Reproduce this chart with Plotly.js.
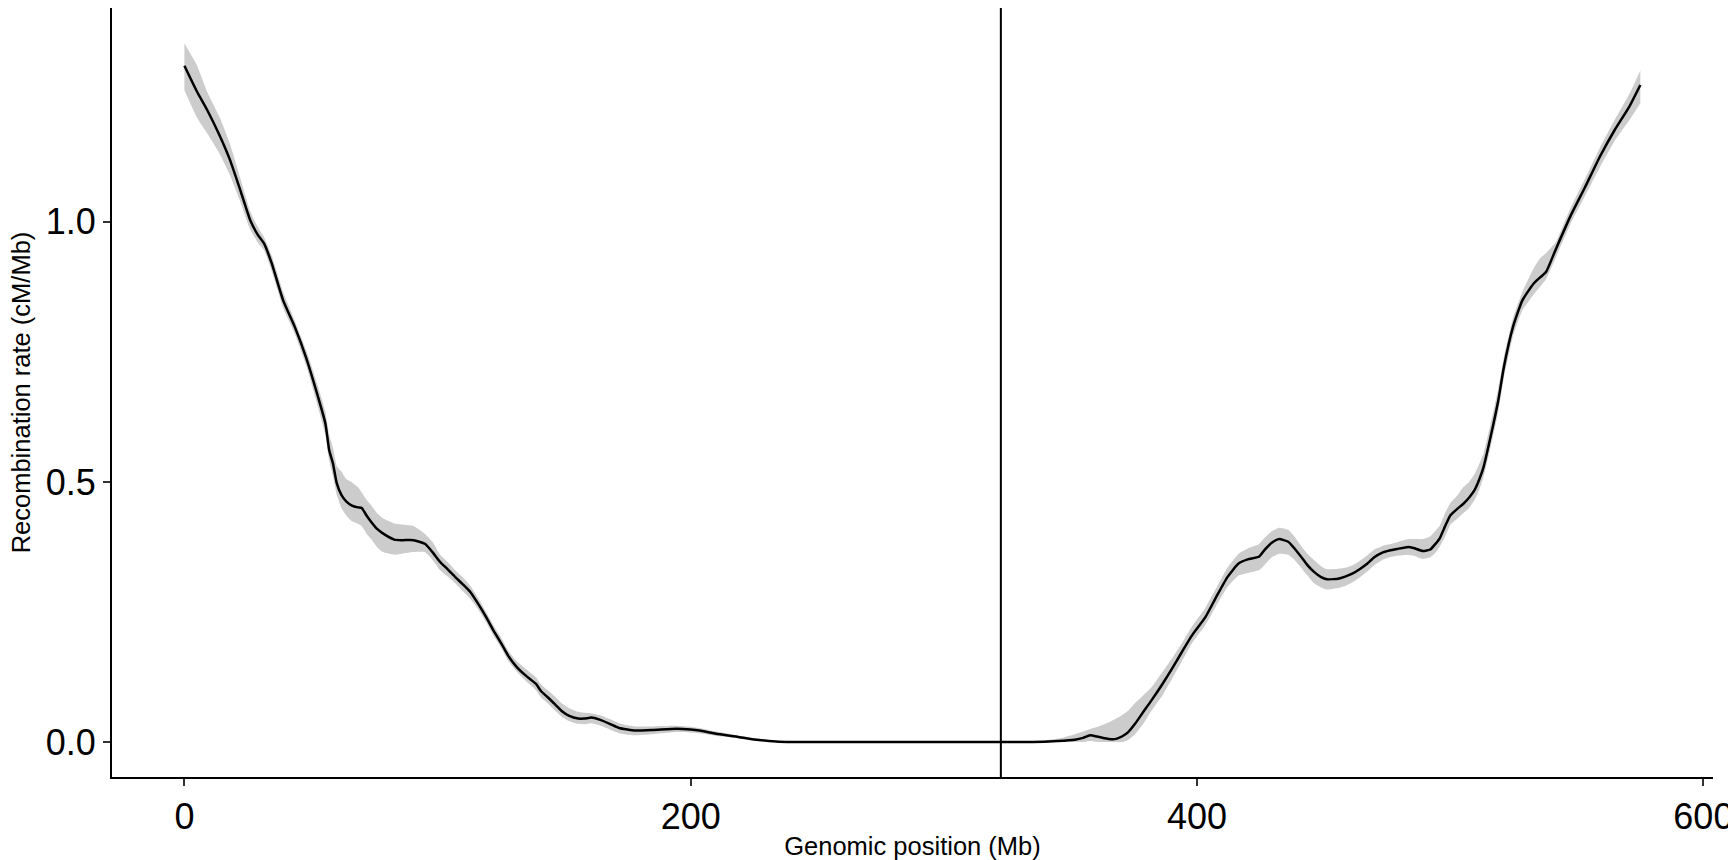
<!DOCTYPE html>
<html>
<head>
<meta charset="utf-8">
<script src="https://cdn.plot.ly/plotly-3.0.1.min.js"></script>
<style>
  html, body { margin: 0; padding: 0; background: #fff; }
  #chart { width: 1728px; height: 860px; }
</style>
</head>
<body>
<div id="chart"></div>
<script>
// Genomic position (Mb)
const position = [0, 5, 9, 14, 18, 22, 26, 29, 31.5, 34.5, 39, 43.6, 48, 52.7, 55.7, 57.2, 58.7, 60.2, 62, 64, 66, 68.5, 70, 72, 73.8, 76, 78.4, 82.9, 86, 90.5, 95, 98, 101, 104, 107, 110, 113, 116, 119.2, 122, 125.2, 128, 131.3, 135, 138.8, 141, 143.4, 146.5, 149.4, 152, 155.5, 158, 160.8, 164, 168, 171.7, 175, 178, 185, 194.4, 200, 203.5, 210, 217, 225, 233.7, 240, 260, 280, 300, 322, 335, 345, 351.7, 355, 357.7, 361, 365.3, 368, 370.5, 372.8, 375.5, 378.8, 382, 386.4, 390, 394, 398, 403.3, 407.6, 412, 416.4, 420, 424.4, 426.6, 429.5, 432.4, 436, 438.5, 441.1, 443.6, 446.2, 449, 451.3, 455.7, 458.5, 461.5, 464.5, 467.3, 470, 473.2, 476, 479, 483.4, 485.5, 489.2, 492.1, 494, 495.8, 498, 500.1, 503, 505.2, 507.5, 509.6, 511.5, 513.2, 516.1, 519.0, 521.2, 524.8, 528.5, 532.9, 535.5, 537.9, 541.6, 547.4, 553.3, 559.1, 564.9, 570.7, 575.1];

// Smoothed recombination rate (cM/Mb)
const rate = [1.300, 1.250, 1.215, 1.165, 1.119, 1.062, 1.003, 0.975, 0.958, 0.920, 0.849, 0.798, 0.740, 0.665, 0.612, 0.561, 0.535, 0.497, 0.475, 0.462, 0.455, 0.451, 0.450, 0.435, 0.423, 0.410, 0.401, 0.389, 0.388, 0.388, 0.381, 0.365, 0.346, 0.332, 0.317, 0.303, 0.288, 0.266, 0.240, 0.215, 0.189, 0.165, 0.144, 0.127, 0.112, 0.097, 0.0865, 0.072, 0.058, 0.050, 0.045, 0.045, 0.047, 0.043, 0.035, 0.027, 0.024, 0.022, 0.023, 0.0255, 0.024, 0.022, 0.016, 0.011, 0.005, 0.001, 0.0, 0.0, 0.0, 0.0, 0.0, 0.0, 0.002, 0.0045, 0.008, 0.0128, 0.010, 0.0058, 0.006, 0.011, 0.019, 0.035, 0.058, 0.080, 0.112, 0.140, 0.173, 0.205, 0.240, 0.279, 0.317, 0.343, 0.351, 0.356, 0.369, 0.383, 0.390, 0.385, 0.372, 0.356, 0.340, 0.327, 0.317, 0.313, 0.314, 0.318, 0.324, 0.333, 0.343, 0.355, 0.364, 0.368, 0.371, 0.375, 0.373, 0.367, 0.370, 0.380, 0.391, 0.415, 0.436, 0.449, 0.458, 0.470, 0.484, 0.505, 0.529, 0.590, 0.657, 0.721, 0.798, 0.849, 0.881, 0.893, 0.904, 0.946, 1.010, 1.067, 1.125, 1.176, 1.221, 1.263];

// Confidence band, lower bound
const rateLow = [1.253, 1.200, 1.170, 1.130, 1.090, 1.040, 0.985, 0.960, 0.945, 0.905, 0.835, 0.785, 0.725, 0.645, 0.590, 0.540, 0.510, 0.475, 0.450, 0.435, 0.425, 0.420, 0.415, 0.400, 0.390, 0.375, 0.365, 0.360, 0.362, 0.365, 0.365, 0.350, 0.330, 0.318, 0.305, 0.290, 0.275, 0.255, 0.230, 0.205, 0.180, 0.155, 0.135, 0.117, 0.100, 0.085, 0.075, 0.060, 0.047, 0.040, 0.035, 0.034, 0.036, 0.032, 0.024, 0.017, 0.014, 0.013, 0.015, 0.019, 0.018, 0.017, 0.012, 0.008, 0.003, 0.0, 0.0, 0.0, 0.0, 0.0, 0.0, 0.0, 0.0, 0.0, 0.0, 0.002, 0.0, 0.0, 0.0, 0.0, 0.004, 0.015, 0.035, 0.060, 0.090, 0.120, 0.155, 0.190, 0.225, 0.262, 0.298, 0.320, 0.325, 0.330, 0.340, 0.355, 0.362, 0.360, 0.350, 0.335, 0.320, 0.305, 0.297, 0.293, 0.296, 0.300, 0.307, 0.317, 0.328, 0.340, 0.350, 0.355, 0.358, 0.360, 0.358, 0.352, 0.355, 0.363, 0.375, 0.395, 0.418, 0.430, 0.440, 0.450, 0.465, 0.485, 0.510, 0.570, 0.635, 0.700, 0.780, 0.830, 0.860, 0.875, 0.890, 0.930, 0.995, 1.050, 1.105, 1.155, 1.195, 1.228];

// Confidence band, upper bound
const rateHigh = [1.343, 1.300, 1.250, 1.200, 1.150, 1.085, 1.020, 0.990, 0.970, 0.935, 0.865, 0.810, 0.755, 0.685, 0.635, 0.590, 0.565, 0.530, 0.520, 0.505, 0.500, 0.490, 0.480, 0.465, 0.455, 0.440, 0.430, 0.420, 0.418, 0.415, 0.400, 0.385, 0.360, 0.346, 0.330, 0.316, 0.300, 0.277, 0.250, 0.225, 0.200, 0.175, 0.155, 0.140, 0.125, 0.110, 0.100, 0.087, 0.073, 0.065, 0.058, 0.056, 0.055, 0.052, 0.044, 0.036, 0.032, 0.030, 0.030, 0.031, 0.029, 0.027, 0.020, 0.014, 0.007, 0.002, 0.001, 0.0005, 0.0, 0.0, 0.0, 0.001, 0.006, 0.015, 0.020, 0.025, 0.030, 0.038, 0.045, 0.052, 0.060, 0.075, 0.090, 0.105, 0.135, 0.160, 0.190, 0.222, 0.258, 0.296, 0.335, 0.362, 0.372, 0.380, 0.392, 0.405, 0.412, 0.408, 0.395, 0.377, 0.362, 0.350, 0.338, 0.332, 0.333, 0.335, 0.340, 0.349, 0.359, 0.370, 0.377, 0.380, 0.384, 0.390, 0.390, 0.390, 0.395, 0.405, 0.415, 0.440, 0.460, 0.475, 0.490, 0.500, 0.515, 0.535, 0.555, 0.615, 0.680, 0.740, 0.815, 0.865, 0.910, 0.930, 0.940, 0.960, 1.025, 1.083, 1.142, 1.195, 1.245, 1.291];

// Centromere position (Mb)
const centromere = 322.5;

const xTicks = [0, 200, 400, 600];
const yTicks = [0, 0.5, 1.0];

const traces = [
  {
    x: position, y: rateLow, type: 'scatter', mode: 'lines',
    line: { width: 0, color: 'rgba(0,0,0,0)', shape: 'spline', smoothing: 0.4 },
    hoverinfo: 'skip', showlegend: false
  },
  {
    x: position, y: rateHigh, type: 'scatter', mode: 'lines',
    fill: 'tonexty', fillcolor: '#CCCCCC',
    line: { width: 0, color: 'rgba(0,0,0,0)', shape: 'spline', smoothing: 0.4 },
    hoverinfo: 'skip', showlegend: false
  },
  {
    x: position, y: rate, type: 'scatter', mode: 'lines',
    line: { width: 2.5, color: '#000000', shape: 'spline', smoothing: 0.5 },
    showlegend: false
  }
];

const tickFont = { family: 'Liberation Sans, Arial, Helvetica, sans-serif', size: 36, color: '#000000' };
const titleFont = { family: 'Liberation Sans, Arial, Helvetica, sans-serif', size: 25.5, color: '#000000' };

const layout = {
  width: 1728, height: 860,
  margin: { l: 112, r: 15, t: 8, b: 83, pad: 0 },
  paper_bgcolor: '#ffffff', plot_bgcolor: '#ffffff',
  showlegend: false,
  xaxis: {
    range: [-28.6, 603.8],
    tickvals: xTicks, ticktext: xTicks.map(String),
    showgrid: false, zeroline: false,
    showline: true, linecolor: '#000000', linewidth: 2,
    ticks: 'outside', ticklen: 7, tickwidth: 2, tickcolor: '#333333',
    tickfont: tickFont,
    ticklabeloverflow: 'allow',
    title: { text: 'Genomic position (Mb)', font: titleFont, standoff: 2 },
    automargin: false
  },
  yaxis: {
    range: [-0.0673, 1.411],
    tickvals: yTicks, ticktext: yTicks.map(v => v.toFixed(1)),
    showgrid: false, zeroline: false,
    showline: true, linecolor: '#000000', linewidth: 2,
    ticks: 'outside', ticklen: 7, tickwidth: 2, tickcolor: '#333333',
    tickfont: tickFont,
    ticklabeloverflow: 'allow',
    title: { text: 'Recombination rate (cM/Mb)', font: titleFont, standoff: 8 },
    automargin: false
  },
  shapes: [
    {
      type: 'line', xref: 'x', yref: 'paper',
      x0: centromere, x1: centromere, y0: 0, y1: 1,
      line: { color: '#000000', width: 2 }
    }
  ]
};

Plotly.newPlot('chart', traces, layout, { displayModeBar: false, staticPlot: true });
</script>
</body>
</html>
